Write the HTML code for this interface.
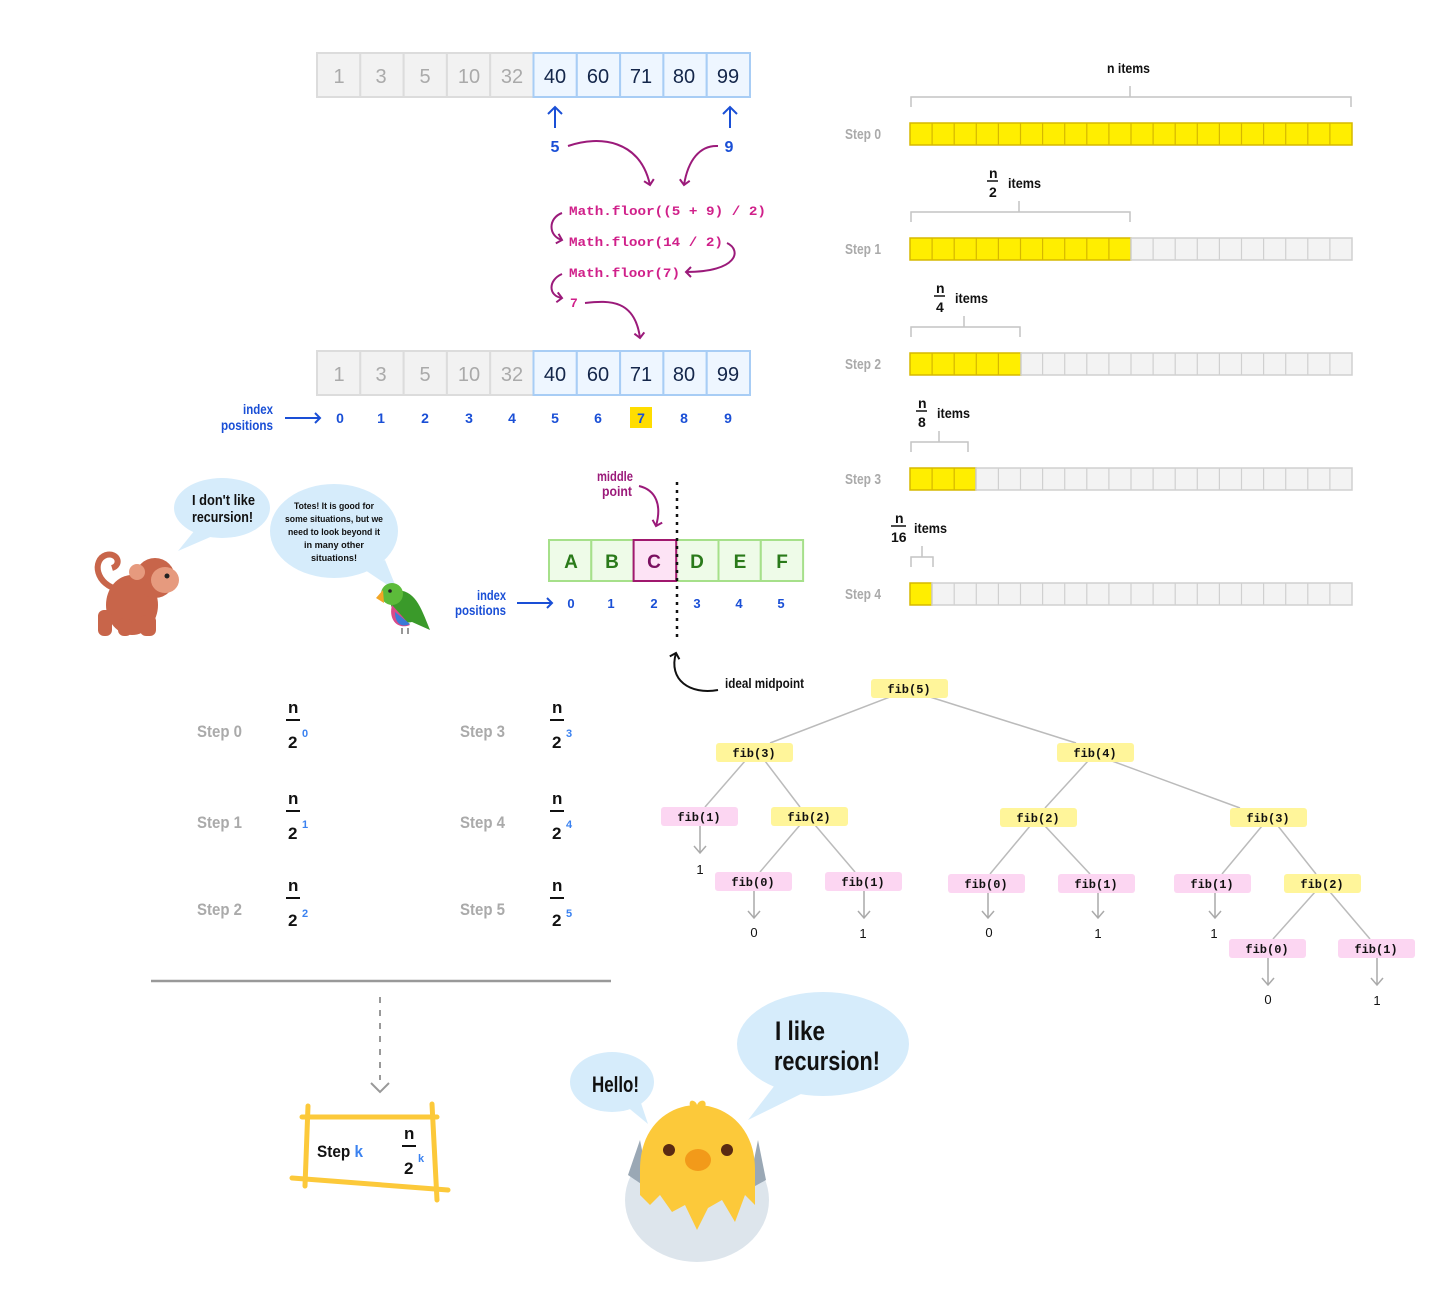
<!DOCTYPE html>
<html><head><meta charset="utf-8"><style>
html,body{margin:0;padding:0;background:#fff}
svg{display:block}
.h{font-family:"Liberation Sans Narrow","Liberation Sans",sans-serif;font-weight:bold}
.a{font-family:"Liberation Sans",sans-serif}
.m{font-family:"Liberation Mono",monospace;font-weight:bold}
</style></head><body>
<svg width="1456" height="1291" viewBox="0 0 1456 1291" xmlns="http://www.w3.org/2000/svg">
<defs>
<marker id="ap" markerWidth="12" markerHeight="12" refX="6" refY="6" orient="auto" markerUnits="userSpaceOnUse"><path d="M1,1 L6,6 L1,11" fill="none" stroke="#9b1a7a" stroke-width="2"/></marker>
<marker id="ab" markerWidth="12" markerHeight="12" refX="6" refY="6" orient="auto" markerUnits="userSpaceOnUse"><path d="M1,1 L6,6 L1,11" fill="none" stroke="#1a4fd6" stroke-width="2"/></marker>
<marker id="ak" markerWidth="12" markerHeight="12" refX="6" refY="6" orient="auto" markerUnits="userSpaceOnUse"><path d="M1,1 L6,6 L1,11" fill="none" stroke="#111" stroke-width="2"/></marker>
</defs>

<g id="arr">
<g stroke="#dcdcdc" stroke-width="2" fill="#f2f2f2">
<rect x="317" y="53" width="43.3" height="44"/><rect x="360.3" y="53" width="43.3" height="44"/><rect x="403.6" y="53" width="43.3" height="44"/><rect x="446.9" y="53" width="43.3" height="44"/><rect x="490.2" y="53" width="43.3" height="44"/>
</g>
<g stroke="#a8cdf5" stroke-width="2" fill="#eef6ff">
<rect x="533.5" y="53" width="43.3" height="44"/><rect x="576.8" y="53" width="43.3" height="44"/><rect x="620.1" y="53" width="43.3" height="44"/><rect x="663.4" y="53" width="43.3" height="44"/><rect x="706.7" y="53" width="43.3" height="44"/>
</g>
<g class="a" font-size="20" text-anchor="middle">
<g fill="#aaa"><text x="339" y="83">1</text><text x="381" y="83">3</text><text x="425" y="83">5</text><text x="469" y="83">10</text><text x="512" y="83">32</text></g>
<g fill="#14264a"><text x="555" y="83">40</text><text x="598" y="83">60</text><text x="641" y="83">71</text><text x="684" y="83">80</text><text x="728" y="83">99</text></g>
</g>
</g>
<use href="#arr" y="298"/>

<g stroke="#1a4fd6" stroke-width="2" fill="none">
<path d="M555,128 V107 M548,114 L555,107 L562,114"/>
<path d="M730,128 V107 M723,114 L730,107 L737,114"/>
</g>
<g class="h" fill="#1a4fd6" font-size="16" text-anchor="middle"><text x="555" y="152">5</text><text x="729" y="152">9</text></g>

<g stroke="#9b1a7a" stroke-width="2" fill="none">
<path d="M568,146 C600,135 640,140 650,185" marker-end="url(#ap)"/>
<path d="M718,146 C700,145 688,160 684,185" marker-end="url(#ap)"/>
<path d="M562,213 C548,218 548,236 562,240" marker-end="url(#ap)"/>
<path d="M727,243 C742,250 738,272 686,272" marker-end="url(#ap)"/>
<path d="M562,274 C548,280 548,296 562,298" marker-end="url(#ap)"/>
<path d="M585,303 C610,300 635,300 640,338" marker-end="url(#ap)"/>
</g>
<g class="m" fill="#d0208a" font-size="13">
<text x="569" y="215" textLength="197" lengthAdjust="spacingAndGlyphs">Math.floor((5 + 9) / 2)</text>
<text x="569" y="246" textLength="154" lengthAdjust="spacingAndGlyphs">Math.floor(14 / 2)</text>
<text x="569" y="277" textLength="111" lengthAdjust="spacingAndGlyphs">Math.floor(7)</text>
<text x="570" y="307">7</text>
</g>

<rect x="630" y="407" width="22" height="21" fill="#ffdd00"/>
<g class="a" font-weight="bold" fill="#1a4fd6" font-size="14" text-anchor="middle">
<text x="340" y="423">0</text><text x="381" y="423">1</text><text x="425" y="423">2</text><text x="469" y="423">3</text><text x="512" y="423">4</text><text x="555" y="423">5</text><text x="598" y="423">6</text><text x="641" y="423">7</text><text x="684" y="423">8</text><text x="728" y="423">9</text>
</g>
<g class="h" fill="#1a4fd6" font-size="14"><text x="243" y="414" textLength="30" lengthAdjust="spacingAndGlyphs">index</text><text x="221" y="430" textLength="52" lengthAdjust="spacingAndGlyphs">positions</text></g>
<path d="M285,418 H320" stroke="#1a4fd6" stroke-width="2" marker-end="url(#ab)"/>

<g class="h" fill="#aaa" font-size="15">
<text x="845" y="139" textLength="36" lengthAdjust="spacingAndGlyphs">Step 0</text><text x="845" y="254" textLength="36" lengthAdjust="spacingAndGlyphs">Step 1</text><text x="845" y="369" textLength="36" lengthAdjust="spacingAndGlyphs">Step 2</text><text x="845" y="484" textLength="36" lengthAdjust="spacingAndGlyphs">Step 3</text><text x="845" y="599" textLength="36" lengthAdjust="spacingAndGlyphs">Step 4</text>
</g>
<g stroke-width="1.5">
<g fill="#ffee00" stroke="#d6b800">
<rect x="910" y="123" width="442" height="22"/>
<rect x="910" y="238" width="221" height="22"/>
<rect x="910" y="353" width="111" height="22"/>
<rect x="910" y="468" width="66" height="22"/>
<rect x="910" y="583" width="22" height="22"/>
</g>
<g fill="#f3f3f3" stroke="#d0d0d0">
<rect x="1131" y="238" width="221" height="22"/>
<rect x="1021" y="353" width="331" height="22"/>
<rect x="976" y="468" width="376" height="22"/>
<rect x="932" y="583" width="420" height="22"/>
</g>
</g>
<g stroke-width="1.2">
<path stroke="#d6b800" d="M932.1,123v22M954.2,123v22M976.3,123v22M998.4,123v22M1020.5,123v22M1042.6,123v22M1064.7,123v22M1086.8,123v22M1108.9,123v22M1131,123v22M1153.1,123v22M1175.2,123v22M1197.3,123v22M1219.4,123v22M1241.5,123v22M1263.6,123v22M1285.7,123v22M1307.8,123v22M1329.9,123v22
M932.1,238v22M954.2,238v22M976.3,238v22M998.4,238v22M1020.5,238v22M1042.6,238v22M1064.7,238v22M1086.8,238v22M1108.9,238v22
M932.1,353v22M954.2,353v22M976.3,353v22M998.4,353v22
M932.1,468v22M954.2,468v22"/>
<path stroke="#d0d0d0" d="M1153.1,238v22M1175.2,238v22M1197.3,238v22M1219.4,238v22M1241.5,238v22M1263.6,238v22M1285.7,238v22M1307.8,238v22M1329.9,238v22
M1042.6,353v22M1064.7,353v22M1086.8,353v22M1108.9,353v22M1131,353v22M1153.1,353v22M1175.2,353v22M1197.3,353v22M1219.4,353v22M1241.5,353v22M1263.6,353v22M1285.7,353v22M1307.8,353v22M1329.9,353v22
M998.4,468v22M1020.5,468v22M1042.6,468v22M1064.7,468v22M1086.8,468v22M1108.9,468v22M1131,468v22M1153.1,468v22M1175.2,468v22M1197.3,468v22M1219.4,468v22M1241.5,468v22M1263.6,468v22M1285.7,468v22M1307.8,468v22M1329.9,468v22
M954.2,583v22M976.3,583v22M998.4,583v22M1020.5,583v22M1042.6,583v22M1064.7,583v22M1086.8,583v22M1108.9,583v22M1131,583v22M1153.1,583v22M1175.2,583v22M1197.3,583v22M1219.4,583v22M1241.5,583v22M1263.6,583v22M1285.7,583v22M1307.8,583v22M1329.9,583v22"/>
</g>
<g stroke="#c4c4c4" stroke-width="1.5" fill="none">
<path d="M911,107 V97 H1351 V107 M1130,97 V86"/>
<path d="M911,222 V212 H1130 V222 M1019,212 V201"/>
<path d="M911,337 V327 H1020 V337 M964,327 V316"/>
<path d="M911,452 V442 H968 V452 M939,442 V431"/>
<path d="M911,567 V557 H933 V567 M922,557 V546"/>
</g>
<g class="h" fill="#111" font-size="14">
<text x="1107" y="73" textLength="43" lengthAdjust="spacingAndGlyphs">n items</text>
<text x="989" y="178">n</text><line x1="987" y1="181" x2="998" y2="181" stroke="#111" stroke-width="1.5"/><text x="989" y="197">2</text><text x="1008" y="188" textLength="33" lengthAdjust="spacingAndGlyphs">items</text>
<text x="936" y="293">n</text><line x1="934" y1="296" x2="945" y2="296" stroke="#111" stroke-width="1.5"/><text x="936" y="312">4</text><text x="955" y="303" textLength="33" lengthAdjust="spacingAndGlyphs">items</text>
<text x="918" y="408">n</text><line x1="916" y1="411" x2="927" y2="411" stroke="#111" stroke-width="1.5"/><text x="918" y="427">8</text><text x="937" y="418" textLength="33" lengthAdjust="spacingAndGlyphs">items</text>
<text x="895" y="523">n</text><line x1="891" y1="526" x2="906" y2="526" stroke="#111" stroke-width="1.5"/><text x="891" y="542">16</text><text x="914" y="533" textLength="33" lengthAdjust="spacingAndGlyphs">items</text>
</g>

<g stroke="#a6e08a" stroke-width="2" fill="#eefbe8">
<rect x="549" y="540" width="42.3" height="41"/><rect x="591.3" y="540" width="42.3" height="41"/><rect x="676.2" y="540" width="42.3" height="41"/><rect x="718.5" y="540" width="42.3" height="41"/><rect x="760.8" y="540" width="42.3" height="41"/>
</g>
<rect x="633.6" y="540" width="42.6" height="41" fill="#fde3f5" stroke="#a0186e" stroke-width="2"/>
<g class="a" font-weight="bold" font-size="19" text-anchor="middle" fill="#2a7a1a">
<text x="571" y="568">A</text><text x="612" y="568">B</text><text x="654" y="568" fill="#7a1060">C</text><text x="697" y="568">D</text><text x="740" y="568">E</text><text x="782" y="568">F</text>
</g>
<line x1="677" y1="482" x2="677" y2="640" stroke="#111" stroke-width="2.5" stroke-dasharray="3,5"/>
<g class="a" font-weight="bold" fill="#1a4fd6" font-size="13" text-anchor="middle">
<text x="571" y="608">0</text><text x="611" y="608">1</text><text x="654" y="608">2</text><text x="697" y="608">3</text><text x="739" y="608">4</text><text x="781" y="608">5</text>
</g>
<g class="h" fill="#1a4fd6" font-size="14"><text x="477" y="600" textLength="29" lengthAdjust="spacingAndGlyphs">index</text><text x="455" y="615" textLength="51" lengthAdjust="spacingAndGlyphs">positions</text></g>
<path d="M517,603 H552" stroke="#1a4fd6" stroke-width="2" marker-end="url(#ab)"/>
<g class="h" fill="#9b1a7a" font-size="14"><text x="597" y="481" textLength="36" lengthAdjust="spacingAndGlyphs">middle</text><text x="602" y="496" textLength="30" lengthAdjust="spacingAndGlyphs">point</text></g>
<path d="M639,486 C656,490 662,505 656,526" stroke="#9b1a7a" stroke-width="2" fill="none" marker-end="url(#ap)"/>
<path d="M718,690 C690,695 668,680 676,653" stroke="#111" stroke-width="2" fill="none" marker-end="url(#ak)"/>
<text class="h" x="725" y="688" font-size="14" fill="#111" textLength="79" lengthAdjust="spacingAndGlyphs">ideal midpoint</text>

<g fill="#c8654a">
<path d="M120,590 C95,585 92,560 106,555 C118,552 122,565 112,568" fill="none" stroke="#c8654a" stroke-width="6"/>
<ellipse cx="132" cy="605" rx="26" ry="30"/>
<rect x="98" y="610" width="14" height="26" rx="6"/>
<rect x="118" y="618" width="14" height="18" rx="6"/>
<rect x="140" y="615" width="16" height="21" rx="6"/>
<circle cx="155" cy="578" r="20"/>
<circle cx="137" cy="572" r="8" fill="#e69a7e"/>
<ellipse cx="165" cy="580" rx="14" ry="13" fill="#e69a7e"/>
<circle cx="167" cy="576" r="2.5" fill="#222"/>
</g>
<g fill="#d6ecfb">
<ellipse cx="222" cy="508" rx="48" ry="30"/><path d="M195,530 L178,551 L215,535 Z"/>
<ellipse cx="334" cy="531" rx="64" ry="47"/><path d="M365,570 L398,592 L385,560 Z"/>
<ellipse cx="612" cy="1082" rx="42" ry="30"/><path d="M625,1105 L648,1124 L640,1100 Z"/>
<ellipse cx="823" cy="1044" rx="86" ry="52"/><path d="M775,1085 L748,1120 L805,1092 Z"/>
</g>
<g class="h" fill="#111">
<text x="192" y="505" font-size="15" textLength="63" lengthAdjust="spacingAndGlyphs">I don't like</text><text x="192" y="522" font-size="15" textLength="61" lengthAdjust="spacingAndGlyphs">recursion!</text>
<g font-size="9.5" text-anchor="middle"><text x="334" y="509" textLength="80" lengthAdjust="spacingAndGlyphs">Totes! It is good for</text><text x="334" y="522" textLength="98" lengthAdjust="spacingAndGlyphs">some situations, but we</text><text x="334" y="535" textLength="92" lengthAdjust="spacingAndGlyphs">need to look beyond it</text><text x="334" y="548" textLength="60" lengthAdjust="spacingAndGlyphs">in many other</text><text x="334" y="561" textLength="46" lengthAdjust="spacingAndGlyphs">situations!</text></g>
<text x="592" y="1092" font-size="22" textLength="47" lengthAdjust="spacingAndGlyphs">Hello!</text>
<text x="775" y="1040" font-size="27" textLength="50" lengthAdjust="spacingAndGlyphs">I like</text><text x="774" y="1070" font-size="27" textLength="106" lengthAdjust="spacingAndGlyphs">recursion!</text>
</g>
<g>
<path d="M395,590 C415,590 420,605 430,630 L412,622 C400,625 392,615 390,600 Z" fill="#3a9a2a"/>
<circle cx="392" cy="594" r="11" fill="#5cbb3a"/>
<path d="M383,590 L376,598 L384,603 Z" fill="#f2a626"/>
<path d="M392,605 C388,620 398,630 410,625 Z" fill="#d84a8a"/>
<path d="M395,612 C395,624 402,628 410,624 Z" fill="#3a7ad8"/>
<circle cx="390" cy="591" r="1.8" fill="#222"/>
<path d="M402,628 v6 M408,628 v6" stroke="#777" stroke-width="1.5"/>
</g>

<g class="h" font-size="17" fill="#aaa">
<text x="197" y="737" textLength="45" lengthAdjust="spacingAndGlyphs">Step 0</text><text x="197" y="828" textLength="45" lengthAdjust="spacingAndGlyphs">Step 1</text><text x="197" y="915" textLength="45" lengthAdjust="spacingAndGlyphs">Step 2</text>
<text x="460" y="737" textLength="45" lengthAdjust="spacingAndGlyphs">Step 3</text><text x="460" y="828" textLength="45" lengthAdjust="spacingAndGlyphs">Step 4</text><text x="460" y="915" textLength="45" lengthAdjust="spacingAndGlyphs">Step 5</text>
</g>
<g class="h" font-size="17" fill="#111">
<g id="fr"><text x="288" y="713">n</text><line x1="286" y1="720" x2="300" y2="720" stroke="#111" stroke-width="2"/><text x="288" y="748">2</text></g>
<use href="#fr" y="91"/><use href="#fr" y="178"/>
<use href="#fr" x="264"/><use href="#fr" x="264" y="91"/><use href="#fr" x="264" y="178"/>
</g>
<g class="h" font-size="11" fill="#3b82f0">
<text x="302" y="737">0</text><text x="302" y="828">1</text><text x="302" y="917">2</text>
<text x="566" y="737">3</text><text x="566" y="828">4</text><text x="566" y="917">5</text>
</g>
<line x1="151" y1="981" x2="611" y2="981" stroke="#999" stroke-width="2.5"/>
<line x1="380" y1="997" x2="380" y2="1080" stroke="#999" stroke-width="2" stroke-dasharray="6,7"/>
<path d="M371,1083 L380,1092 L389,1083" stroke="#999" stroke-width="2" fill="none"/>
<g stroke="#fcc93a" stroke-width="5" stroke-linecap="round">
<line x1="302" y1="1117" x2="437" y2="1117"/><line x1="292" y1="1178" x2="448" y2="1190"/>
<line x1="308" y1="1106" x2="305" y2="1186"/><line x1="432" y1="1104" x2="437" y2="1200"/>
</g>
<text class="h" x="317" y="1157" font-size="17" fill="#111" textLength="46" lengthAdjust="spacingAndGlyphs">Step <tspan fill="#3b82f0">k</tspan></text>
<g class="h" font-size="17" fill="#111"><text x="404" y="1139">n</text><line x1="402" y1="1146" x2="416" y2="1146" stroke="#111" stroke-width="2"/><text x="404" y="1174">2</text></g>
<text class="h" x="418" y="1162" font-size="11" fill="#3b82f0">k</text>

<g>
<ellipse cx="697" cy="1200" rx="72" ry="62" fill="#dde5ec"/>
<path d="M628,1175 L640,1140 L650,1190 Z M766,1180 L758,1140 L748,1190 Z" fill="#9aa8b5"/>
<path d="M640,1170 C640,1125 670,1105 697,1105 C724,1105 755,1125 755,1170 L755,1205 L745,1195 L735,1222 L722,1200 L708,1208 L697,1230 L685,1205 L672,1212 L660,1195 L650,1205 L640,1195 Z" fill="#fcc93a"/>
<path d="M690,1106 C688,1098 696,1100 697,1105 C700,1098 708,1100 705,1107 Z" fill="#fcc93a"/>
<circle cx="669" cy="1150" r="6" fill="#5a2a12"/><circle cx="727" cy="1150" r="6" fill="#5a2a12"/>
<ellipse cx="698" cy="1160" rx="13" ry="11" fill="#f29a1a"/>
</g>

<g stroke="#bbb" stroke-width="1.5">
<line x1="890" y1="697" x2="770" y2="743"/><line x1="930" y1="697" x2="1076" y2="743"/>
<line x1="745" y1="761" x2="705" y2="807"/><line x1="765" y1="761" x2="800" y2="807"/>
<line x1="1088" y1="761" x2="1045" y2="808"/><line x1="1112" y1="761" x2="1240" y2="808"/>
<line x1="800" y1="825" x2="760" y2="872"/><line x1="815" y1="825" x2="855" y2="872"/>
<line x1="1030" y1="826" x2="990" y2="874"/><line x1="1045" y1="826" x2="1090" y2="874"/>
<line x1="1262" y1="826" x2="1222" y2="874"/><line x1="1278" y1="826" x2="1316" y2="874"/>
<line x1="1315" y1="892" x2="1273" y2="939"/><line x1="1330" y1="892" x2="1370" y2="939"/>
</g>
<g stroke="#aaa" stroke-width="1.5" fill="none">
<path d="M700,826 V852 M694,846 L700,853 L706,846"/>
<path d="M754,891 V917 M748,911 L754,918 L760,911"/>
<path d="M864,891 V917 M858,911 L864,918 L870,911"/>
<path d="M988,893 V917 M982,911 L988,918 L994,911"/>
<path d="M1098,893 V917 M1092,911 L1098,918 L1104,911"/>
<path d="M1215,893 V917 M1209,911 L1215,918 L1221,911"/>
<path d="M1268,958 V984 M1262,978 L1268,985 L1274,978"/>
<path d="M1377,958 V984 M1371,978 L1377,985 L1383,978"/>
</g>
<g>
<g fill="#fff59a"><rect x="871" y="679" width="77" height="19" rx="3"/><rect x="716" y="743" width="77" height="19" rx="3"/><rect x="1057" y="743" width="77" height="19" rx="3"/><rect x="771" y="807" width="77" height="19" rx="3"/><rect x="1000" y="808" width="77" height="19" rx="3"/><rect x="1230" y="808" width="77" height="19" rx="3"/><rect x="1284" y="874" width="77" height="19" rx="3"/></g>
<g fill="#fcd6f2"><rect x="661" y="807" width="77" height="19" rx="3"/><rect x="715" y="872" width="77" height="19" rx="3"/><rect x="825" y="872" width="77" height="19" rx="3"/><rect x="948" y="874" width="77" height="19" rx="3"/><rect x="1058" y="874" width="77" height="19" rx="3"/><rect x="1174" y="874" width="77" height="19" rx="3"/><rect x="1229" y="939" width="77" height="19" rx="3"/><rect x="1338" y="939" width="77" height="19" rx="3"/></g>
</g>
<g class="m" font-size="12" fill="#111" text-anchor="middle">
<text x="909" y="693">fib(5)</text><text x="754" y="757">fib(3)</text><text x="1095" y="757">fib(4)</text>
<text x="699" y="821">fib(1)</text><text x="809" y="821">fib(2)</text><text x="1038" y="822">fib(2)</text><text x="1268" y="822">fib(3)</text>
<text x="753" y="886">fib(0)</text><text x="863" y="886">fib(1)</text><text x="986" y="888">fib(0)</text><text x="1096" y="888">fib(1)</text><text x="1212" y="888">fib(1)</text><text x="1322" y="888">fib(2)</text>
<text x="1267" y="953">fib(0)</text><text x="1376" y="953">fib(1)</text>
</g>
<g class="a" font-size="13" fill="#111" text-anchor="middle">
<text x="700" y="874">1</text><text x="754" y="937">0</text><text x="863" y="938">1</text><text x="989" y="937">0</text><text x="1098" y="938">1</text><text x="1214" y="938">1</text><text x="1268" y="1004">0</text><text x="1377" y="1005">1</text>
</g>
</svg>
</body></html>
